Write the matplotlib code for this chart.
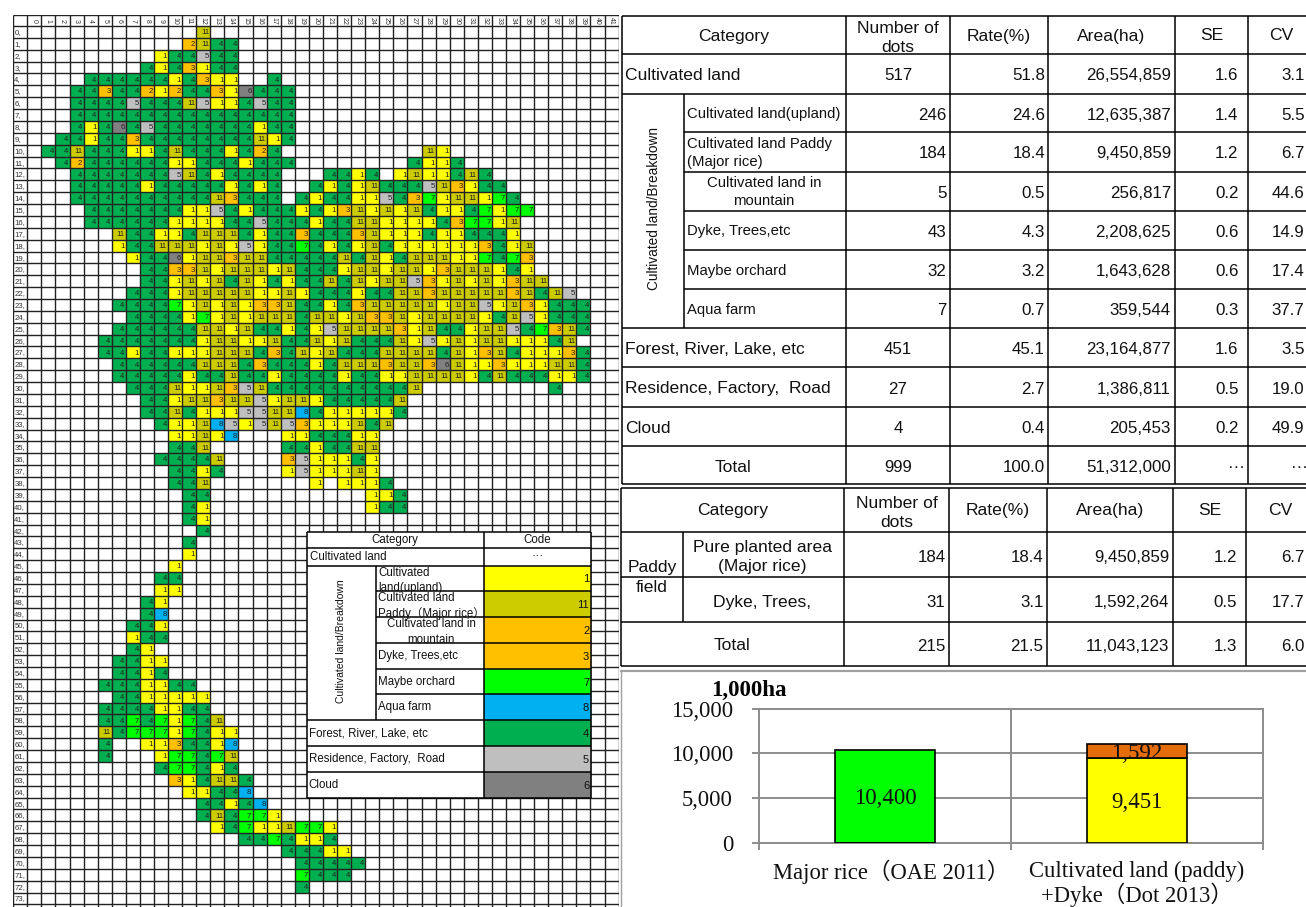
import numpy as np
import matplotlib
matplotlib.use("Agg")
import matplotlib.pyplot as plt
from matplotlib.colors import ListedColormap

W, H = 1306, 907
SANS = ["Liberation Sans", "Noto Sans CJK JP"]
SERIF = ["Liberation Serif", "Noto Sans CJK JP"]

# ---- land-cover codes by (row, first column, codes); 0 = blank ----
map_north = [
 (0,12,[11]),(1,11,[2,11,4,4]),(2,9,[1,4,4,5,4,4]),(3,8,[4,1,4,3,1,4,4]),
 (4,4,[4,4,4,4,4,4,1,4,3,1,1]),(4,17,[4]),
 (5,3,[4,4,3,4,4,2,1,2,4,4,3,1,6,4,4,4]),
 (6,3,[4,4,4,4,5,4,4,4,11,5,1,1,4,5,4,4]),
 (7,3,[4,4,4,4,4,4,4,4,4,4,4,4,4,4,4,4]),
 (8,3,[4,1,4,6,4,5,4,4,4,4,4,4,4,1,4,4]),
 (9,2,[4,4,1,4,4,3,4,4,4,4,4,4,4,4,11,1,4]),
 (10,1,[4,4,11,4,4,4,1,1,4,11,4,4,4,1,4,2,4]),(10,28,[11,1]),
 (11,2,[4,2,4,4,4,4,4,4,1,1,4,4,4,1,4,4,4]),(11,27,[4,1,1,4]),
 (12,3,[4,4,4,4,4,4,4,5,11,4,1,4,4,4,4]),(12,21,[4,4,1,4]),(12,26,[1,11,1,1,4,11,4]),
 (13,3,[4,4,4,4,4,1,4,4,4,4,4,1,4,1,4]),(13,20,[4,1,4,1,11,4,4,4,5,11,3,1,4,4]),
 (14,3,[4,4,4,4,4,4,4,4,4,4,11,3,4,4,4]),(14,19,[4,1,4,4,1,1,5,4,3,7,1,11,11,1,7,4]),
 (15,4,[4,4,4,4,4,4,4,1,1,5,4,1,4,4,4,1,4,1,3,11,1,11,1,11,4,1,1,4,7,1,7,7]),
 (16,4,[4,4,4,4,4,4,1,1,1,1,4,4,5,4,4,4,1,4,4,11,11,1,1,1,1,4,3,7,7,1,11]),
 (17,6,[11,4,4,1,1,4,11,11,11,4,1,4,4,3,4,4,4,3,11,1,1,1,4,1,1,4,4,4,1]),
 (18,6,[1,4,4,11,11,11,1,11,1,5,1,4,4,7,4,1,4,1,11,4,1,1,1,1,1,1,3,4,1,11]),
 (19,7,[1,4,4,6,1,11,11,3,11,11,4,4,4,4,4,11,4,11,1,4,11,11,11,1,1,7,4,7,3]),
 (20,8,[4,4,3,3,11,1,11,11,11,1,11,4,4,4,1,11,11,1,11,11,1,3,11,11,11,1,4,1]),
 (21,8,[4,4,1,11,1,11,4,11,1,4,1,4,4,11,4,11,1,11,11,5,3,1,11,1,11,1,3,11,11]),
]
map_middle = [
 (22,7,[4,4,4,1,11,11,11,11,11,1,1,11,1,4,4,4,1,4,4,11,11,3,11,11,11,11,11,3,11,4,11,5]),
 (23,6,[4,4,4,4,7,1,11,1,11,1,3,3,11,4,4,1,4,3,11,11,11,11,11,1,11,11,5,1,11,3,1,4,4,4]),
 (24,7,[4,4,4,4,1,7,1,11,1,11,11,11,4,11,11,1,11,3,3,11,1,11,11,11,11,1,4,11,5,1,4,4,4]),
 (25,6,[4,4,4,4,4,4,11,11,1,11,4,4,1,4,1,5,11,11,11,11,3,1,11,4,4,1,11,11,5,4,7,3,11,4]),
 (26,5,[4,4,4,4,4,4,4,1,11,11,1,1,11,4,4,11,1,11,4,4,4,11,1,5,1,11,1,11,11,1,1,1,4,11]),
 (27,5,[4,4,1,4,4,1,1,1,11,11,11,4,3,4,11,1,11,4,4,4,11,11,11,11,4,11,1,3,11,4,1,1,1,3,4]),
 (28,6,[4,4,4,4,4,4,11,11,11,4,3,4,4,4,1,4,11,11,11,3,11,11,3,6,11,1,1,3,1,1,1,11,11,4]),
 (29,6,[4,4,4,4,4,1,4,4,11,4,4,1,4,4,4,4,1,4,4,1,1,11,11,11,11,1,4,11,4,4,4,1,1,4]),
 (30,7,[4,4,4,11,1,1,11,3,5,11,4,4,4,4,4,4,4,4,4,4,11]),(30,37,[4]),
 (31,8,[4,4,1,11,11,3,11,11,5,1,11,11,1,4,4,4,4,4,11]),
 (32,8,[4,4,11,4,1,1,1,5,5,11,11,8,4,1,1,1,1,1,4]),
 (33,9,[4,1,1,11,8,5,1,5,11,5,3,1,1,1,11,4,11]),
 (34,10,[1,1,11,1,8]),(34,18,[1,1,4,4,4,1,1]),
 (35,10,[4,4,11]),(35,18,[4,4,1,4,4,11,11]),
 (36,9,[4,4,4,4,11]),(36,18,[3,5,1,1,1,4,1]),
 (37,10,[4,4,1,4]),(37,18,[1,5,1,1,1,11,1]),
 (38,10,[4,4,11]),(38,20,[1]),(38,22,[1,1,1,4]),
 (39,11,[4,4]),(39,24,[1,1,4]),(40,11,[4,1]),(40,24,[1,4,4]),
 (41,11,[4,1]),(42,12,[4]),(43,11,[4]),(44,11,[1]),(45,10,[1]),(46,9,[4,4]),(47,9,[1,1]),
]
map_south = [
 (48,8,[4,1]),(49,8,[4,8]),(50,7,[4,4,1]),(51,7,[1,4,4]),(52,7,[4,1]),(53,6,[4,4,1,1]),
 (54,6,[4,4,1,4]),(55,5,[4,4,4,1,1,4,4]),(56,6,[4,4,1,1,1,1,1]),(57,5,[4,4,4,4,1,1,4,4]),
 (58,5,[4,4,7,4,7,1,7,4,11]),(59,5,[11,4,7,7,7,1,7,4,1,1]),
 (60,5,[4]),(60,8,[1,1,3,4,4,1,8]),(61,5,[4]),(61,9,[1,7,7,4,7,11]),
 (62,9,[4,7,7,4,1,4]),(63,10,[3,1,4,11,11,4]),(64,11,[1,1,4,4,8]),(65,12,[4,4,1,4,8]),
 (66,12,[4,11,4,7,7,1]),(67,13,[1,4,7,1,1,11,7,7,1]),(68,15,[4,4,7,4,1,1,4]),
 (69,18,[4,4,4,1,1]),(70,19,[4,4,4,4,4]),(71,19,[7,4,4,4]),(72,19,[4]),
]
code_colors = ["#FFFFFF","#FFFF00","#FFC000","#FFC000","#00B050","#BFBFBF","#808080",
               "#00FF00","#00B0F0","#FFFFFF","#FFFFFF","#CCCC00"]

# ---- main table ----
t1_names = ["Cultivated land","Cultivated land(upland)","Cultivated land Paddy\n(Major rice)",
            "Cultivated land in\nmountain","Dyke, Trees,etc","Maybe orchard","Aqua farm",
            "Forest, River, Lake, etc","Residence, Factory,  Road","Cloud","Total"]
t1_dots = [517,246,184,5,43,32,7,451,27,4,999]
t1_rate = ["51.8","24.6","18.4","0.5","4.3","3.2","0.7","45.1","2.7","0.4","100.0"]
t1_area = ["26,554,859","12,635,387","9,450,859","256,817","2,208,625","1,643,628","359,544",
           "23,164,877","1,386,811","205,453","51,312,000"]
t1_se = ["1.6","1.4","1.2","0.2","0.6","0.6","0.3","1.6","0.5","0.2","···"]
t1_cv = ["3.1","5.5","6.7","44.6","14.9","17.4","37.7","3.5","19.0","49.9","···"]
headers = ["Category","Number of\ndots","Rate(%)","Area(ha)","SE","CV"]

# ---- paddy table ----
t2_names = ["Pure planted area\n(Major rice)","Dyke, Trees,","Total"]
t2_dots = [184,31,215]
t2_rate = ["18.4","3.1","21.5"]
t2_area = ["9,450,859","1,592,264","11,043,123"]
t2_se = ["1.2","0.5","1.3"]
t2_cv = ["6.7","17.7","6.0"]

# ---- legend table ----
legend_names = ["Cultivated\nland(upland)","Cultivated land\nPaddy（Major rice）",
                "Cultivated land in\nmountain","Dyke, Trees,etc","Maybe orchard","Aqua farm",
                "Forest, River, Lake, etc","Residence, Factory,  Road","Cloud"]
legend_codes = [1,11,2,3,7,8,4,5,6]

# ---- bar chart ----
bar_cats = ["Major rice（OAE 2011）","Cultivated land (paddy)\n+Dyke（Dot 2013）"]
bar_green = [10400,0]
bar_yellow = [0,9451]
bar_orange = [0,1592]

fig = plt.figure(figsize=(W/100,H/100),dpi=100,facecolor="white")
def px_axes(x0,y0,x1,y1,**k):
    return fig.add_axes([x0/W,1-y1/H,(x1-x0)/W,(y1-y0)/H],**k)

# ---------- dot map ----------
cw, ch = 14.08, 11.87
gx0, gy0 = 27.3, 26.0
NCOL, NROW = 42, 75
m = px_axes(gx0-cw, gy0-11.0, gx0+NCOL*cw, H)
m.set_xlim(-1, NCOL); m.set_ylim((H-gy0)/ch, -11.0/ch); m.axis("off")
grid = np.zeros((NROW,NCOL),dtype=int)
for runs in (map_north,map_middle,map_south):
    for r,c,vals in runs:
        grid[r,c:c+len(vals)] = vals
cmap = ListedColormap(code_colors)
m.pcolormesh(np.arange(NCOL+1),np.arange(NROW+1),grid,cmap=cmap,vmin=-0.5,vmax=11.5,zorder=1)
LC = "#222222"
top = -11.0/ch
m.vlines(np.arange(-1,NCOL+1),top,NROW,color=LC,lw=1.0,zorder=2)
m.hlines(np.concatenate([[top],np.arange(NROW+1)]),-1,NCOL,color=LC,lw=1.0,zorder=2)
for c in range(NCOL):
    m.text(c+0.5,top/2,str(c),rotation=270,ha="center",va="center",fontsize=5,color="#333333",family=SANS,zorder=3)
for r in range(74):
    m.text(-0.92,r+0.55,f"{r},",ha="left",va="center",fontsize=5.6,color="#333333",family=SANS,zorder=3)
for r,c in zip(*np.nonzero(grid)):
    m.text(c+0.92,r+0.56,str(grid[r,c]),ha="right",va="center",fontsize=5.6,color="#222222",family=SANS,zorder=3)

# ---------- tables, in pixel coordinates ----------
t = px_axes(0,0,W,H); t.set_xlim(0,W); t.set_ylim(H,0); t.axis("off"); t.patch.set_alpha(0)
TK = dict(color="black",lw=1.1,solid_capstyle="butt")
def H_(y,x0,x1,**k): t.plot([x0,x1],[y,y],**{**TK,**k})
def V_(x,y0,y1,**k): t.plot([x,x],[y0,y1],**{**TK,**k})
def T_(x,y,s,fs=12.6,ha="center",**k):
    t.text(x,y+2,s,fontsize=fs,ha=ha,va="center",family=k.pop("family",SANS),color=k.pop("color","#111111"),linespacing=k.pop("linespacing",1.25),**k)
NUM = 12.2

X1 = [622,684,846,950,1048,1175,1248]
Y1 = [15.7,54.3,93.7,132.3,171.7,210.7,250,289,328.3,367.3,406.7,445.7,484.3]
for y in Y1: H_(y,622 if y in (Y1[0],Y1[1],Y1[2],Y1[8],Y1[9],Y1[10],Y1[11],Y1[12]) else 684,W)
for x in X1[:1]+X1[2:]: V_(x,Y1[0],Y1[-1])
V_(X1[1],Y1[2],Y1[8])
mid = lambda a,b:(a+b)/2
def header(X,ya,yb):
    y = mid(ya,yb)
    T_(mid(X[0],X[2]),y-1,headers[0])
    T_(mid(X[2],X[3]),y+1,headers[1],linespacing=1.35)
    T_(mid(X[3],X[4]),y-1,headers[2])
    T_(mid(X[4],X[5]),y-1,headers[3])
    T_(mid(X[5],X[6]),y-1,headers[4])
    T_(mid(X[6],W+8),y-1,headers[5])
header(X1,Y1[0],Y1[1])
def numbers(X,y,d,r,a,s,c,center_d):
    if center_d: T_(mid(X[2],X[3]),y,str(d),fs=NUM)
    else: T_(X[3]-3.5,y,str(d),fs=NUM,ha="right")
    T_(X[4]-3,y,r,fs=NUM,ha="right"); T_(X[5]-4,y,a,fs=NUM,ha="right")
    T_(X[6]-9.5 if s!="···" else X[6]-3,y,s,fs=NUM,ha="right")
    T_(W-1.5 if c!="···" else W+2,y,c,fs=NUM,ha="right",clip_on=False)
for i,nm in enumerate(t1_names):
    ya,yb = Y1[i+1],Y1[i+2]; y = mid(ya,yb)
    if 1<=i<=6:
        if nm.startswith("Cultivated land in"):
            T_(mid(X1[1],X1[2])-1,y-1,nm,fs=10.7,linespacing=1.35)
        else:
            T_(X1[1]+3,y-1,nm,fs=10.7,ha="left",linespacing=1.35)
        numbers(X1,y,t1_dots[i],t1_rate[i],t1_area[i],t1_se[i],t1_cv[i],False)
    else:
        if nm=="Total": T_(mid(X1[0],X1[2])-1,y,nm)
        else: T_(X1[0]+3,y,nm,ha="left")
        numbers(X1,y,t1_dots[i],t1_rate[i],t1_area[i],t1_se[i],t1_cv[i],True)
T_(mid(X1[0],X1[1])+1.5,206,"Cultivated land/Breakdown",fs=9.8,rotation=90)

X2 = [621.3,682.6,844.4,949,1046.5,1173.4,1246.4]
Y2 = [487.7,531.7,576.7,621.7,666]
for y in Y2: H_(y,X2[0],W)
for x in X2[:1]+X2[2:]: V_(x,Y2[0],Y2[-1])
V_(X2[1],Y2[1],Y2[3])
header(X2,Y2[0],Y2[1])
T_(mid(X2[0],X2[1]),mid(Y2[1],Y2[3])-1,"Paddy\nfield",linespacing=1.4)
for i,nm in enumerate(t2_names):
    y = mid(Y2[i+1],Y2[i+2])
    if i<2: T_(mid(X2[1],X2[2])-1,y+1,nm,linespacing=1.35)
    else: T_(mid(X2[0],X2[2])-1,y,nm)
    numbers(X2,y+1,t2_dots[i],t2_rate[i],t2_area[i],t2_se[i],t2_cv[i],False)

# legend table
LEG = 8.3
LX = [306.7,376,484,590.7]
LY = [531.7,548.3,565.7,591,617,643,668.7,694.3,720.3,746.3,772.3,798.3]
t.fill_between([LX[0],LX[3]],LY[0],LY[-1],color="white",zorder=1.5,lw=0)
for i,cd in enumerate(legend_codes):
    ya,yb = LY[i+2],LY[i+3]; y = mid(ya,yb)
    t.fill_between([LX[2],LX[3]],ya,yb,color=code_colors[cd],zorder=1.6,lw=0)
    T_(LX[3]-1.5,y-1,str(cd),fs=8,ha="right",zorder=3)
    nm = legend_names[i]
    if i<6:
        if i==2: T_(mid(LX[1],LX[2])+1,y,nm,fs=LEG,linespacing=1.35,zorder=3)
        else: T_(LX[1]+2,y if "\n" in nm else y-2,nm,fs=LEG,ha="left",linespacing=1.35,zorder=3)
    else:
        T_(LX[0]+2,y-2,nm,fs=LEG,ha="left",zorder=3)
for y in LY:
    x0 = LX[1] if y in LY[3:8] else LX[0]
    H_(y,x0,LX[3],zorder=2.5)
for x in (LX[0],LX[3]): V_(x,LY[0],LY[-1],zorder=2.5)
V_(LX[2],LY[0],LY[-1],zorder=2.5); V_(LX[1],LY[2],LY[8],zorder=2.5)
T_(mid(LX[0],LX[2])-0.5,mid(LY[0],LY[1])-2,"Category",fs=LEG,zorder=3)
T_(mid(LX[2],LX[3]),mid(LY[0],LY[1])-2,"Code",fs=LEG,zorder=3)
T_(LX[0]+3,mid(LY[1],LY[2])-2,"Cultivated land",fs=LEG,ha="left",zorder=3)
T_(mid(LX[2],LX[3]),mid(LY[1],LY[2])-3,"···",fs=9,zorder=3)
T_(341,639.5,"Cultivated land/Breakdown",fs=7.5,rotation=90,zorder=3)

# chart frame
H_(671,620,W,color="#a0a0a0",lw=1.6); V_(620.5,671,H,color="#a0a0a0",lw=1.0)

# ---------- bar chart ----------
b = px_axes(759,708.7,1263,842.7)
b.set_xlim(-0.5,1.5); b.set_ylim(0,15000)
GC = "#8c8c8c"
xs = np.arange(len(bar_cats))
b.bar(xs,bar_green,0.4,color="#00FF00",edgecolor="black",lw=1.2,zorder=3)
b.bar(xs,bar_yellow,0.4,color="#FFFF00",edgecolor="black",lw=1.2,zorder=3)
b.bar(xs,bar_orange,0.4,bottom=bar_yellow,color="#E46C0A",edgecolor="black",lw=1.2,zorder=3)
b.set_yticks([0,5000,10000,15000]); b.set_yticklabels(["0","5,000","10,000","15,000"],family=SERIF,fontsize=16.3,color="#111111")
b.set_xticks([-0.5,0.5,1.5]); b.set_xticklabels([])
b.tick_params(axis="both",color=GC,width=1.4,length=4.7)
b.tick_params(axis="y",pad=14)
b.grid(True,color=GC,lw=1.4,zorder=1); b.set_axisbelow(True)
for s in b.spines.values(): s.set_color(GC); s.set_linewidth(1.4)
SER = dict(family=SERIF,fontsize=16.5,color="#111111",ha="center",va="center_baseline",zorder=5)
b.text(xs[0],bar_green[0]/2,f"{bar_green[0]:,}",**SER)
b.text(xs[1],bar_yellow[1]/2,f"{bar_yellow[1]:,}",**SER)
b.text(xs[1],bar_yellow[1]+bar_orange[1]/2,f"{bar_orange[1]:,}",**SER)
b.patch.set_alpha(0)
T_(749,688,"1,000ha",fs=16.5,family=SERIF,weight="bold",color="black")
T_(891,870,bar_cats[0],fs=16.3,family=SERIF)
T_(1137,882,bar_cats[1],fs=16.3,family=SERIF,linespacing=1.02)

fig.savefig("out.png",dpi=100)
